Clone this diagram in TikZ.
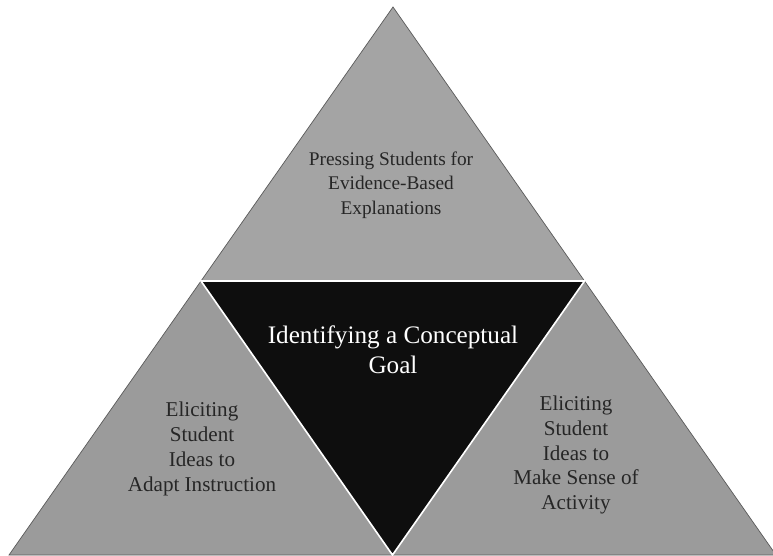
\documentclass[tikz,border=0pt]{standalone}
\usepackage{fontspec}
\setmainfont{Liberation Serif}
\usepackage{xcolor}
\usepackage{tikz}
\usetikzlibrary{positioning,calc}
\definecolor{piece}{HTML}{9B9B9B}
\definecolor{piecetop}{HTML}{A4A4A4}
\definecolor{edge}{HTML}{5A5A5A}
\definecolor{core}{HTML}{0E0E0E}
\definecolor{ink}{HTML}{262626}
\tikzset{
    corner/.style={draw=edge, line width=0.6pt, fill=piece, line join=miter},
    centre/.style={draw=white, line width=1.4pt, fill=core, line join=miter},
    label/.style={align=center, text=ink, font=\fontsize{16.5}{21}\selectfont},
    sidelabel/.style={label, font=\fontsize{18}{21.2}\selectfont},
    goal/.style={align=center, text=white, font=\fontsize{21.5}{25.5}\selectfont}
}

\begin{document}
\begin{tikzpicture}[x=0.03cm, y=-0.03cm]
\useasboundingbox (0,0) rectangle (773,556);
\coordinate (apex) at (393,7);
\coordinate (bl) at (9,555);
\coordinate (br) at (776,555);
\coordinate (ml) at ($(apex)!0.5!(bl)$);
\coordinate (mr) at ($(apex)!0.5!(br)$);
\coordinate (mb) at ($(bl)!0.5!(br)$);
% outer pieces
\filldraw[corner, fill=piecetop] (apex) -- (mr) -- (ml) -- cycle;
\filldraw[corner] (ml) -- (mb) -- (bl) -- cycle;
\filldraw[corner] (mr) -- (br) -- (mb) -- cycle;
% inner triangle
\filldraw[centre] (ml) -- (mr) -- (mb) -- cycle;
\node[label] (press) at (391,185) {Pressing Students for\\Evidence-Based\\Explanations};
\node[goal] (ident) at (393,350) {Identifying a Conceptual\\Goal};
\node[sidelabel] (adapt) at (202,449) {Eliciting\\Student\\Ideas to\\Adapt Instruction};
\node[sidelabel] (sense) at (576,455) {Eliciting\\Student\\Ideas to\\Make Sense of\\Activity};
\end{tikzpicture}
\end{document}
